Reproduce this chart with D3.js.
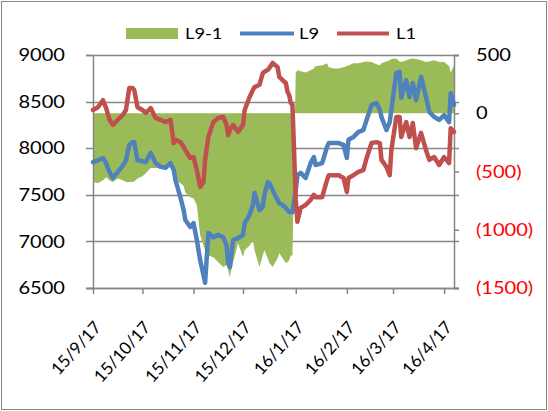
<!DOCTYPE html>
<html>
<head>
<meta charset="utf-8">
<script src="https://cdnjs.cloudflare.com/ajax/libs/d3/7.8.5/d3.min.js"></script>
<style>
  body { margin: 0; background: #fff; }
  svg { display: block; }
</style>
</head>
<body>
<svg id="chart"></svg>
<script>
// trading dates (sampled)
const dates = [
  "2017-09-15","2017-09-18","2017-09-21","2017-09-23","2017-09-25","2017-09-27","2017-09-30","2017-10-03","2017-10-05","2017-10-07",
  "2017-10-09","2017-10-10","2017-10-12","2017-10-15","2017-10-17","2017-10-20","2017-10-23","2017-10-26","2017-10-29","2017-11-01",
  "2017-11-03","2017-11-04","2017-11-07","2017-11-09","2017-11-10","2017-11-13","2017-11-15","2017-11-17","2017-11-19","2017-11-21",
  "2017-11-22","2017-11-24","2017-11-27","2017-11-30","2017-12-03","2017-12-05","2017-12-06","2017-12-07","2017-12-09","2017-12-12",
  "2017-12-15","2017-12-16","2017-12-19","2017-12-21","2017-12-22","2017-12-25","2017-12-27","2017-12-28","2017-12-30","2017-12-31",
  "2018-01-02","2018-01-05","2018-01-06","2018-01-08","2018-01-10","2018-01-11","2018-01-12","2018-01-13","2018-01-14","2018-01-16",
  "2018-01-17","2018-01-19","2018-01-22","2018-01-25","2018-01-27","2018-01-28","2018-02-01","2018-02-04","2018-02-05","2018-02-08",
  "2018-02-11","2018-02-14","2018-02-16","2018-02-17","2018-02-20","2018-02-23","2018-02-26","2018-02-28","2018-03-03","2018-03-06",
  "2018-03-08","2018-03-09","2018-03-12","2018-03-14","2018-03-15","2018-03-18","2018-03-20","2018-03-21","2018-03-24","2018-03-26",
  "2018-03-28","2018-03-30","2018-04-02","2018-04-05","2018-04-07","2018-04-10","2018-04-13","2018-04-16","2018-04-19","2018-04-20",
  "2018-04-22"
];

const l9 = [
  7850, 7870, 7895, 7840, 7745, 7680, 7745, 7810, 7870, 8035, 8065, 8065, 7870, 7860, 7850, 7950, 7840, 7800, 7790, 7840,
  7765, 7660, 7475, 7335, 7230, 7155, 7195, 7015, 6800, 6640, 6555, 7090, 7045, 7070, 7045, 6960, 6770, 6725, 7015, 7035,
  7070, 7195, 7285, 7390, 7520, 7335, 7370, 7500, 7635, 7625, 7550, 7445, 7410, 7390, 7360, 7335, 7315, 7315, 7315, 7550,
  7710, 7735, 7680, 7840, 7905, 7820, 7840, 8015, 8055, 8055, 8055, 8035, 7895, 8090, 8120, 8175, 8195, 8305, 8465, 8485,
  8410, 8335, 8195, 8280, 8410, 8805, 8820, 8540, 8730, 8550, 8700, 8515, 8765, 8550, 8390, 8335, 8305, 8355, 8280, 8590,
  8465
];

const l1 = [
  8410, 8440, 8515, 8430, 8305, 8250, 8305, 8355, 8410, 8645, 8645, 8625, 8440, 8410, 8380, 8430, 8325, 8305, 8280, 8305,
  8055, 8090, 8065, 8015, 7980, 7895, 7905, 7765, 7585, 7635, 7875, 8120, 8280, 8325, 8335, 8250, 8140, 8195, 8250, 8175,
  8250, 8410, 8550, 8625, 8655, 8680, 8805, 8820, 8840, 8860, 8915, 8870, 8765, 8730, 8700, 8605, 8570, 8485, 8465, 7445,
  7210, 7360, 7390, 7445, 7500, 7475, 7475, 7660, 7710, 7710, 7710, 7680, 7530, 7680, 7710, 7745, 7765, 7895, 8055, 8065,
  8055, 7875, 7800, 7710, 7980, 8335, 8335, 8120, 8280, 8120, 8270, 8000, 8165, 7980, 7875, 7905, 7820, 7905, 7840, 8215,
  8175
];

// L9-1 spread (secondary axis)
const spread = [
  -590, -600, -575, -550, -575, -590, -560, -575, -590, -590, -590, -585, -560, -540, -515, -470, -470, -470, -465, -405,
  -530, -575, -600, -625, -680, -720, -730, -790, -1045, -1135, -1175, -1220, -1235, -1280, -1320, -1305, -1345, -1405, -1280, -1115,
  -1235, -1175, -1135, -1090, -1175, -1320, -1220, -1175, -1245, -1285, -1320, -1245, -1200, -1245, -1285, -1280, -1260, -1220, -1220, 350,
  370, 360, 350, 370, 385, 405, 410, 430, 395, 385, 385, 395, 405, 410, 430, 430, 440, 445, 440, 420,
  410, 430, 445, 455, 465, 470, 445, 440, 455, 465, 470, 465, 455, 440, 445, 455, 440, 440, 405, 350,
  410
];

const leftTicks = [6500, 7000, 7500, 8000, 8500, 9000];
const rightTicks = [-1500, -1000, -500, 0, 500];
const xTickDates = ["2017-09-15", "2017-10-15", "2017-11-15", "2017-12-15", "2018-01-16", "2018-02-16", "2018-03-16", "2018-04-16"];
const xTickLabels = ["15/9/17", "15/10/17", "15/11/17", "15/12/17", "16/1/17", "16/2/17", "16/3/17", "16/4/17"];
const seriesNames = ["L9-1", "L9", "L1"];

const width = 548, height = 411;
const stretch = 1.18;  // text looks horizontally stretched in the source
const font = "Lato, 'Open Sans', sans-serif";
const gridColor = "#868686";
const colors = { spread: "#9BBB59", l9: "#4F81BD", l1: "#C0504D" };

const parse = d3.timeParse("%Y-%m-%d");
const data = dates.map((d, i) => ({ date: parse(d), l9: l9[i], l1: l1[i], spread: spread[i] }));

const svg = d3.select("#chart").attr("width", width).attr("height", height);

// outer frame
svg.append("rect")
  .attr("x", 1.5).attr("y", 1.5)
  .attr("width", width - 3).attr("height", height - 3)
  .attr("fill", "#fff").attr("stroke", gridColor).attr("stroke-width", 1);

const plot = { left: 93, right: 454, top: 55, bottom: 288 };

const xScale = d3.scaleTime()
  .domain([parse("2017-09-15"), parse("2018-04-22")])
  .range([plot.left, plot.right]);

const yLeft = d3.scaleLinear().domain([6500, 9000]).range([plot.bottom, plot.top]);
const yRight = d3.scaleLinear().domain([-1500, 500]).range([plot.bottom, plot.top]);

// horizontal gridlines
svg.append("g")
  .selectAll("line")
  .data(leftTicks)
  .join("line")
  .attr("x1", plot.left - 7).attr("x2", plot.right + 5)
  .attr("y1", d => Math.round(yLeft(d)) + 0.5).attr("y2", d => Math.round(yLeft(d)) + 0.5)
  .attr("stroke", gridColor).attr("stroke-width", 1.5);

// spread area
svg.append("path")
  .datum(data)
  .attr("fill", colors.spread)
  .attr("d", d3.area()
    .x(d => xScale(d.date))
    .y0(yRight(0))
    .y1(d => yRight(d.spread)));

// left axis
const leftAxis = svg.append("g")
  .attr("transform", `translate(${plot.left},0)`)
  .call(d3.axisLeft(yLeft).tickValues(leftTicks).tickSize(7).tickFormat(""));
leftAxis.select(".domain").attr("stroke", gridColor).attr("stroke-width", 1.5);
leftAxis.selectAll(".tick line").remove();

svg.append("g")
  .selectAll("text")
  .data(leftTicks)
  .join("text")
  .attr("transform", d => `translate(65,${yLeft(d)}) scale(${stretch},1)`)
  .attr("dy", "0.36em")
  .attr("text-anchor", "end")
  .attr("font-family", font).attr("font-size", 17)
  .attr("fill", "#000")
  .text(d => d);

// right axis
const rightAxis = svg.append("g")
  .attr("transform", `translate(${plot.right},0)`)
  .call(d3.axisRight(yRight).tickValues(rightTicks).tickSize(5).tickFormat(""));
rightAxis.select(".domain").attr("stroke", gridColor).attr("stroke-width", 1.5);
rightAxis.selectAll(".tick line").attr("stroke", gridColor).attr("stroke-width", 1.5);

svg.append("g")
  .selectAll("text")
  .data(rightTicks)
  .join("text")
  .attr("transform", d => `translate(476,${yRight(d)}) scale(${stretch},1)`)
  .attr("dy", "0.36em")
  .attr("text-anchor", "start")
  .attr("font-family", font).attr("font-size", 17)
  .attr("fill", d => d < 0 ? "#FF0000" : "#000")
  .text(d => d < 0 ? `(${-d})` : d);

// bottom axis
const xTicks = xTickDates.map(parse);
const bottomAxis = svg.append("g")
  .attr("transform", `translate(0,${plot.bottom})`)
  .call(d3.axisBottom(xScale).tickValues(xTicks).tickSize(6).tickFormat(""));
bottomAxis.select(".domain").remove();
bottomAxis.selectAll(".tick line").attr("stroke", gridColor).attr("stroke-width", 1.5);

svg.append("line")
  .attr("x1", plot.left - 7).attr("x2", plot.right + 5)
  .attr("y1", plot.bottom + 0.5).attr("y2", plot.bottom + 0.5)
  .attr("stroke", gridColor).attr("stroke-width", 1.5);

svg.append("g")
  .selectAll("text")
  .data(xTicks)
  .join("text")
  .attr("transform", d => `translate(${xScale(d) + 9},328) rotate(-48)`)
  .attr("text-anchor", "end")
  .attr("font-family", font).attr("font-size", 17)
  .attr("fill", "#000")
  .text((d, i) => xTickLabels[i]);

// lines
const lineL9 = d3.line().x(d => xScale(d.date)).y(d => yLeft(d.l9));
const lineL1 = d3.line().x(d => xScale(d.date)).y(d => yLeft(d.l1));

svg.append("path")
  .datum(data)
  .attr("fill", "none")
  .attr("stroke", colors.l9)
  .attr("stroke-width", 4.5)
  .attr("stroke-linejoin", "round")
  .attr("stroke-linecap", "round")
  .attr("d", lineL9);

svg.append("path")
  .datum(data)
  .attr("fill", "none")
  .attr("stroke", colors.l1)
  .attr("stroke-width", 4.5)
  .attr("stroke-linejoin", "round")
  .attr("stroke-linecap", "round")
  .attr("d", lineL1);

// legend
const legend = svg.append("g").attr("font-family", font).attr("font-size", 15.5);
legend.append("rect")
  .attr("x", 126).attr("y", 28).attr("width", 52).attr("height", 11)
  .attr("fill", colors.spread);
legend.append("line")
  .attr("x1", 240).attr("x2", 294).attr("y1", 33.5).attr("y2", 33.5)
  .attr("stroke", colors.l9).attr("stroke-width", 4);
legend.append("line")
  .attr("x1", 337).attr("x2", 389).attr("y1", 33.5).attr("y2", 33.5)
  .attr("stroke", colors.l1).attr("stroke-width", 4);

const legendText = [[185, seriesNames[0]], [299, seriesNames[1]], [396, seriesNames[2]]];
legend.selectAll("text")
  .data(legendText)
  .join("text")
  .attr("transform", d => `translate(${d[0]},39) scale(${stretch},1)`)
  .attr("fill", "#000")
  .text(d => d[1]);
</script>
</body>
</html>
